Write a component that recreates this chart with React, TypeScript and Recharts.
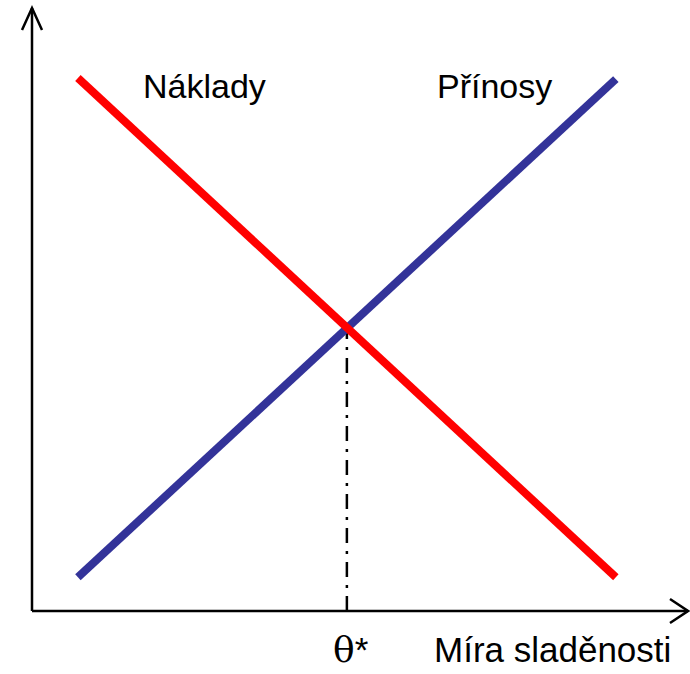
import { LineChart, Line, XAxis, YAxis, ReferenceLine } from 'recharts';

// míra sladěnosti (x) – two end points of each curve
const xValues = [7, 89];
const naklady = [88.4, 5.6];
const prinosy = [5.6, 88.2];
const thetaStar = 48;

const W = 690;
const H = 674;
const margin = { top: 8, right: 2, bottom: 62, left: 31 };

const data = xValues.map((x, i) => ({ x, naklady: naklady[i], prinosy: prinosy[i] }));

// height of the crossing at θ*
const t = (thetaStar - xValues[0]) / (xValues[1] - xValues[0]);
const crossY = naklady[0] + (naklady[1] - naklady[0]) * t;

const sans = '"Liberation Sans", Arial, sans-serif';

export default function App() {
  return (
    <div style={{ position: 'absolute', left: 0, top: 0, width: W, height: H, background: '#fff' }}>
      <LineChart width={W} height={H} data={data} margin={margin}>
        <XAxis
          dataKey="x"
          type="number"
          domain={[0, 100]}
          height={1}
          tick={false}
          tickLine={false}
          axisLine={{ stroke: '#000', strokeWidth: 2.5 }}
        />
        <YAxis
          type="number"
          domain={[0, 100]}
          width={1}
          tick={false}
          tickLine={false}
          axisLine={{ stroke: '#000', strokeWidth: 2.5 }}
        />
        <ReferenceLine
          segment={[
            { x: thetaStar, y: 0 },
            { x: thetaStar, y: crossY },
          ]}
          stroke="#000"
          strokeWidth={2.5}
          strokeDasharray="15 8 3 8"
        />
        <Line
          dataKey="prinosy"
          stroke="#333399"
          strokeWidth={8}
          dot={false}
          activeDot={false}
          isAnimationActive={false}
          strokeLinecap="butt"
        />
        <Line
          dataKey="naklady"
          stroke="#ff0000"
          strokeWidth={8}
          dot={false}
          activeDot={false}
          isAnimationActive={false}
          strokeLinecap="butt"
        />
      </LineChart>
      <svg
        width={W}
        height={H}
        style={{ position: 'absolute', left: 0, top: 0, pointerEvents: 'none' }}
      >
        <polyline points="22,30 32,8 42,30" fill="none" stroke="#000" strokeWidth={2.5} />
        <polyline points="670,599 688,611 670,623" fill="none" stroke="#000" strokeWidth={2.5} />
        <text x={143} y={98} fontFamily={sans} fontSize={34} fill="#000">
          Náklady
        </text>
        <text x={437} y={98} fontFamily={sans} fontSize={34} fill="#000">
          Přínosy
        </text>
        <text x={333} y={662} fill="#000">
          <tspan fontFamily='"DejaVu Serif", "Liberation Serif", serif' fontSize={36}>θ</tspan>
          <tspan fontFamily={sans} fontSize={35}>*</tspan>
        </text>
        <text x={434} y={662} fontFamily={sans} fontSize={35} fill="#000">
          Míra sladěnosti
        </text>
      </svg>
    </div>
  );
}
